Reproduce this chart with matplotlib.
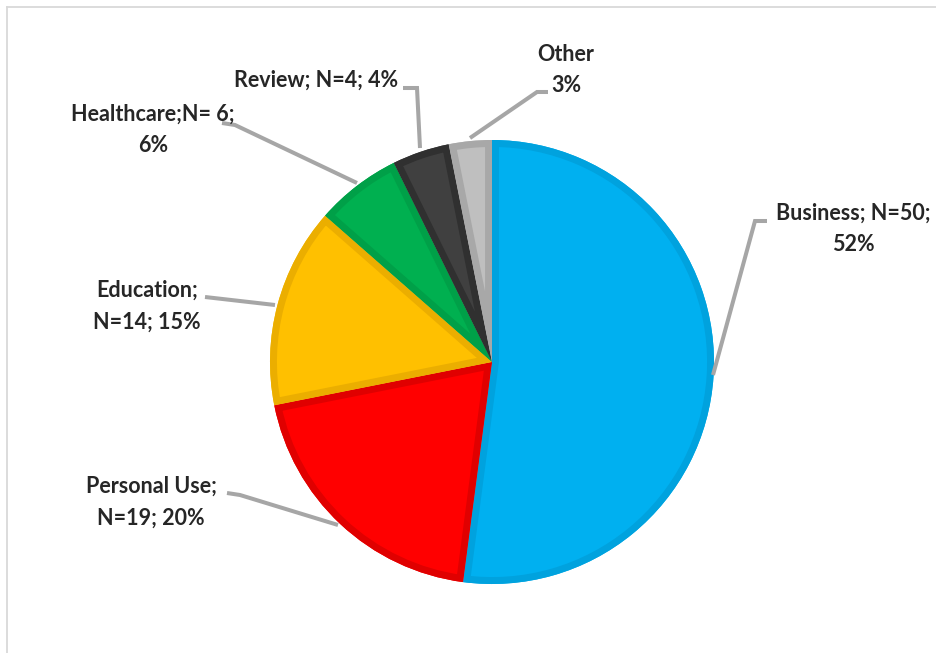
import matplotlib
matplotlib.use("Agg")
import matplotlib.pyplot as plt
from matplotlib.lines import Line2D

# Survey data: share of responses by category
categories = ["Business", "Personal Use", "Education", "Healthcare", "Review", "Other"]
counts = [50, 19, 14, 6, 4, 3]
percents = [52, 20, 15, 6, 4, 3]
labels = [
    "Business; N=50;\n52%",
    "Personal Use;\nN=19; 20%",
    "Education;\nN=14; 15%",
    "Healthcare;N= 6;\n6%",
    "Review; N=4; 4%",
    "Other\n3%",
]

fill_colors = ["#00B0F0", "#FF0000", "#FFC000", "#00B050", "#404040", "#BFBFBF"]
edge_colors = ["#00A2DE", "#E00000", "#EBAE00", "#00A048", "#303030", "#A8A8A8"]

W, H = 936, 653
DPI = 100
fig = plt.figure(figsize=(W / DPI, H / DPI), dpi=DPI)
ax = fig.add_axes([0, 0, 1, 1])
ax.set_xlim(0, W)
ax.set_ylim(0, H)
ax.axis("off")


def py(y):
    # convert a top-down pixel row into the bottom-up axes coordinate
    return H - y


center = (492, py(362))
radius = 222

wedges, _ = ax.pie(
    counts,
    colors=fill_colors,
    startangle=90,
    counterclock=False,
    center=center,
    radius=radius,
    wedgeprops=dict(linewidth=0),
    frame=False,
)
ax.set_xlim(0, W)
ax.set_ylim(0, H)
ax.set_aspect("equal")

# darker inner rim on every slice (stroke clipped to its own wedge)
for w, ec in zip(wedges, edge_colors):
    rim = matplotlib.patches.Wedge(
        w.center, w.r, w.theta1, w.theta2,
        facecolor="none", edgecolor=ec, linewidth=10,
    )
    ax.add_patch(rim)
    rim.set_clip_path(w)

# leader lines (pixel coordinates, top-down)
leaders = [
    [(713, 375), (755, 221), (767, 221)],
    [(338, 525), (240, 495), (227, 493)],
    [(275, 305), (205, 297)],
    [(357, 183), (235, 125), (222, 123)],
    [(420, 148), (417, 88), (403, 88)],
    [(470, 138), (537, 92), (548, 92)],
]
for pts in leaders:
    xs = [p[0] for p in pts]
    ys = [py(p[1]) for p in pts]
    ax.plot(xs, ys, color="#A6A6A6", linewidth=2.9, solid_capstyle="butt",
            solid_joinstyle="miter", zorder=3)

# data labels: (x center, y center of block)
label_pos = [
    (853, 229),
    (151, 502),
    (147, 306),
    (153, 130),
    (316, 80),
    (566, 70),
]
for text, (x, y) in zip(labels, label_pos):
    ax.text(x, py(y), text, ha="center", va="center", multialignment="center",
            fontsize=15.5, fontweight="bold", family=["Lato", "DejaVu Sans"],
            color="#262626", linespacing=1.62, zorder=4)

# chart area border (top and left edges visible)
fig.add_artist(Line2D([7 / W, 7 / W], [0, 1 - 7 / H], transform=fig.transFigure,
                      color="#D9D9D9", linewidth=1.3))
fig.add_artist(Line2D([7 / W, 1], [1 - 7 / H, 1 - 7 / H], transform=fig.transFigure,
                      color="#D9D9D9", linewidth=1.3))

fig.savefig("out.png", dpi=DPI, facecolor="white")
